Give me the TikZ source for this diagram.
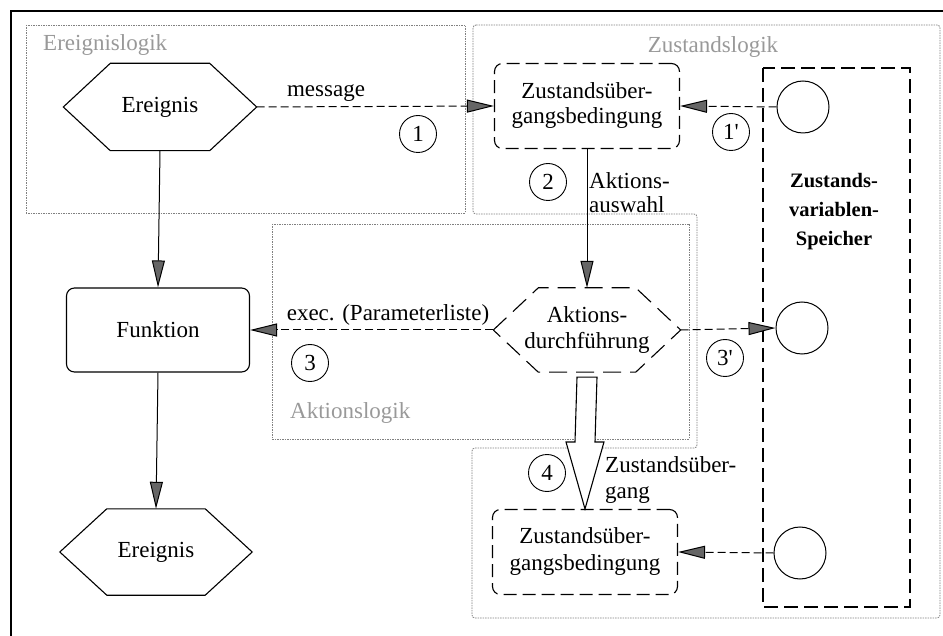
\documentclass[tikz,border=0pt]{standalone}
\usepackage{fontspec}
\setmainfont{Liberation Serif}
\usetikzlibrary{arrows.meta}

\tikzset{
  txt/.style={font=\fontsize{23}{26}\selectfont, inner sep=0pt, align=center},
  regionbox/.style={draw=black!50, line width=0.8pt, dash pattern=on 1.5pt off 1pt},
  regionlabel/.style={font=\fontsize{23}{26}\selectfont, text=black!40, inner sep=0pt},
  solidbox/.style={draw, line width=1.1pt, rounded corners=8pt, minimum width=183pt, minimum height=84pt, txt},
  dashbox/.style={draw, line width=1.1pt, rounded corners=8pt, dash pattern=on 13pt off 6pt, minimum width=185pt, minimum height=85pt, txt},
  hexnode/.style={minimum width=#1, txt, minimum height=86pt},
  store/.style={draw, circle, line width=1pt, minimum size=52pt, inner sep=0pt},
  numcirc/.style={draw, circle, line width=0.9pt, minimum size=37pt, inner sep=0pt, font=\fontsize{23}{26}\selectfont},
  flow/.style={line width=1pt, -{Triangle[length=27pt,width=13pt,fill=black!60]}},
  msg/.style={flow, dash pattern=on 8pt off 4pt},
}

\begin{document}
\begin{tikzpicture}[x=1pt, y=-1pt]
\useasboundingbox (0,0) rectangle (943,636);

% outer frame (top and left edge)
\coordinate (fo) at (11,11);
\coordinate (fr) at (943,11);
\coordinate (fb) at (11,636);
\draw[line width=1.6pt] (fr) -- (fo) -- (fb);

% logic regions
\draw[regionbox] (26,25) rectangle (465,213);
\draw[regionbox] (272,224) rectangle (689,439);
\draw[regionbox, rounded corners=3pt] (473,25) -- (940,25) -- (940,618) -- (472,618) -- (472,448)
  -- (697,448) -- (697,214) -- (473,214) -- cycle;
\node[regionlabel, anchor=west] (lE) at (43,45) {Ereignislogik};
\node[regionlabel] (lZ) at (713,47) {Zustandslogik};
\node[regionlabel, anchor=west] (lA) at (290,413) {Aktionslogik};

% state variable store
\draw[line width=1.3pt, dash pattern=on 14pt off 6pt] (763,68) rectangle (910,607);
\node[txt, font=\bfseries\fontsize{20.5}{29}\selectfont] (sp) at (834,212) {Zustands-\\variablen-\\Speicher};
\node[store] (c1) at (803,107) {};
\node[store] (c2) at (802,328) {};
\node[store] (c3) at (800,553) {};

% event / function chain
\node[hexnode=193pt, minimum height=87pt] (ev1) at (160,107) {Ereignis};
\draw[line width=1.1pt] (ev1.west) -- ([xshift=47pt]ev1.north west) -- ([xshift=-47pt]ev1.north east)
  -- (ev1.east) -- ([xshift=-47pt]ev1.south east) -- ([xshift=47pt]ev1.south west) -- cycle;
\node[solidbox] (fn) at (158,330) {Funktion};
\node[hexnode=192pt] (ev2) at (156,552) {Ereignis};
\draw[line width=1.1pt] (ev2.west) -- ([xshift=47pt]ev2.north west) -- ([xshift=-47pt]ev2.north east)
  -- (ev2.east) -- ([xshift=-47pt]ev2.south east) -- ([xshift=47pt]ev2.south west) -- cycle;

% state transition conditions and action execution
\node[dashbox] (zb1) at (587,106) {Zustandsüber-\\[-1pt]gangsbedingung};
\node[dashbox] (zb2) at (585,552) {Zustandsüber-\\[1pt]gangsbedingung};
\node[hexnode=187pt, minimum height=84pt] (ad) at (587,330) {Aktions-\\durchführung};
\draw[line width=1.1pt, dash pattern=on 18pt off 9pt] (ad.west) -- ([xshift=45pt]ad.north west)
  -- ([xshift=-45pt]ad.north east) -- (ad.east) -- ([xshift=-45pt]ad.south east)
  -- ([xshift=45pt]ad.south west) -- cycle;

% connectors
\draw[flow] (ev1.south) -- (fn.north);
\draw[flow] (fn.south) -- (ev2.north);
\draw[msg] (ev1.east) -- (zb1.west);
\draw[msg] (c1.west) -- (zb1.east);
\draw[flow] (zb1.south -| ad.north) -- (ad.north);
\draw[msg] (ad.west) -- (fn.east);
\draw[msg] (ad.east) -- (c2.west);
\draw[msg] (c3.west) -- (zb2.east);
\draw[line width=1.1pt, fill=white]
  ([xshift=-10pt,yshift=-5pt]ad.south) -- ([xshift=10pt,yshift=-5pt]ad.south)
  -- ([xshift=10pt,yshift=67pt]zb2.north) -- ([xshift=19pt,yshift=67pt]zb2.north)
  -- (zb2.north) -- ([xshift=-19pt,yshift=67pt]zb2.north)
  -- ([xshift=-10pt,yshift=67pt]zb2.north) -- cycle;

% connector labels
\node[txt] (tmsg) at (326,93) {message};
\node[txt, anchor=west, align=left, font=\fontsize{23}{24}\selectfont] (tsel) at (589,193) {Aktions-\\auswahl};
\node[txt] (texec) at (388,315) {exec. (Parameterliste)};
\node[txt, anchor=west, align=left] (ttr) at (605,480) {Zustandsüber-\\gang};
\node[numcirc] (n1) at (418,134) {1};
\node[numcirc] (n1p) at (731,132) {1\textquotesingle};
\node[numcirc] (n2) at (548,182) {2};
\node[numcirc] (n3) at (310,363) {3};
\node[numcirc] (n3p) at (725,358) {3\textquotesingle};
\node[numcirc] (n4) at (547,473) {4};
\end{tikzpicture}
\end{document}
